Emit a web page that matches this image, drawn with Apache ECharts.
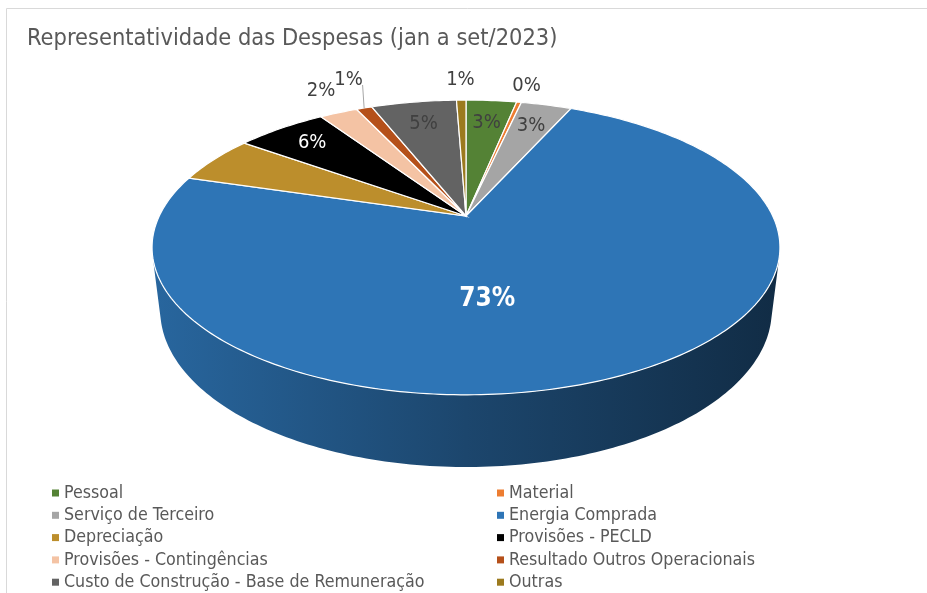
<!DOCTYPE html>
<html>
<head>
<meta charset="utf-8">
<script src="https://cdn.jsdelivr.net/npm/echarts@6/dist/echarts.min.js"></script>
<style>
html, body { margin: 0; padding: 0; background: #fff; }
#chart { width: 927px; height: 593px; }
</style>
</head>
<body>
<div id="chart"></div>
<script>
// shares in %
const categories = ["Pessoal", "Material", "Serviço de Terceiro", "Energia Comprada", "Depreciação",
	"Provisões - PECLD", "Provisões - Contingências", "Resultado Outros Operacionais",
	"Custo de Construção - Base de Remuneração", "Outras"]
const shares = [3.2, 0.3, 3.2, 72.9, 5.3, 5.7, 2.4, 1.0, 5.4, 0.6]
const colors = ["#548235", "#ED7D31", "#A5A5A5", "#2E75B6", "#BC8E2C", "#000000", "#F4C3A4", "#B5501A", "#636363", "#9C7A1E"]
const legendLeft = ["Pessoal", "Serviço de Terceiro", "Depreciação", "Provisões - Contingências", "Custo de Construção - Base de Remuneração"]
const legendRight = ["Material", "Energia Comprada", "Provisões - PECLD", "Resultado Outros Operacionais", "Outras"]

const FONT = "'Liberation Sans Narrow', 'DejaVu Sans Condensed', sans-serif"

// where each percentage label goes (radius as fraction of pie radius)
const labelSpots = [
	{r: 0.78},
	{r: 1.175},
	{r: 0.78},
	{r: 0.53, turn: 18, fill: "#fff", size: 26, weight: "bold"},
	null,
	{r: 0.81, fill: "#fff"},
	{r: 1.24, turn: 1.5},
	{r: 1.31, turn: 1.8, leader: true},
	{r: 0.78},
	{r: 1.217}
]

// perspective camera for the tilted pie
const view = {cx: 466, cy: 216, f: 1278, tilt: 27.3, R: 0.24, depth: 0.0557}
const sinA = Math.sin(view.tilt * Math.PI / 180)
const cosA = Math.cos(view.tilt * Math.PI / 180)

function project(r, deg, y) {
	let a = deg * Math.PI / 180
	let X = r * Math.sin(a), Z = r * Math.cos(a)
	let zc = Z * cosA - y * sinA
	let yc = y * cosA + Z * sinA
	let s = view.f / (1 + zc)
	return [view.cx + X * s, view.cy - yc * s]
}

function arc(r, a0, a1, y) {
	let pts = []
	let n = Math.max(2, Math.ceil(Math.abs(a1 - a0)))
	for (let j = 0; j <= n; j++)
		pts.push(project(r, a0 + (a1 - a0) * j / n, y))
	return pts
}

function shade(c, k) {
	let p = echarts.color.parse(c)
	return "rgb(" + Math.round(p[0] * k) + "," + Math.round(p[1] * k) + "," + Math.round(p[2] * k) + ")"
}

const total = shares.reduce((a, b) => a + b, 0)
const starts = []
let acc = 0
for (let i = 0; i < shares.length; i++) {
	starts.push(acc)
	acc += shares[i]
}

// the outer wall is only seen between these angles
const sideFrom = Math.acos(-view.R / cosA) * 180 / Math.PI
const sideTo = 360 - sideFrom

function sliceRenderer(i) {
	return function (params, api) {
		let value = api.value(0)
		let a0 = starts[i] / total * 360
		let a1 = a0 + value / total * 360
		let children = []
		let c = colors[i]

		let s0 = Math.max(a0, sideFrom), s1 = Math.min(a1, sideTo)
		if (s1 > s0) {
			let pts = arc(view.R, s0, s1, 0).concat(arc(view.R, s1, s0, -view.depth))
			let left = project(view.R, sideTo, 0)[0]
			let right = project(view.R, sideFrom, 0)[0]
			children.push({
				type: "polygon",
				z2: 1,
				shape: {points: pts},
				style: {
					fill: new echarts.graphic.LinearGradient(left, 0, right, 0, [
						{offset: 0, color: shade(c, 0.87)},
						{offset: 0.5, color: shade(c, 0.6)},
						{offset: 1, color: shade(c, 0.38)}
					], true)
				}
			})
		}

		let top = [project(0, 0, 0)].concat(arc(view.R, a0, a1, 0))
		children.push({
			type: "polygon",
			z2: 2,
			shape: {points: top},
			style: {fill: c, stroke: "#fff", lineWidth: 1.2}
		})

		let spot = labelSpots[i]
		if (spot) {
			let mid = (a0 + a1) / 2 + (spot.turn || 0)
			let p = project(view.R * spot.r, mid, 0)
			children.push({
				type: "text",
				z2: 4,
				x: p[0],
				y: p[1],
				style: {
					text: Math.round(value / total * 100) + "%",
					fill: spot.fill || "#404040",
					font: (spot.weight || "normal") + " " + (spot.size || 20) + "px " + FONT,
					align: "center",
					verticalAlign: "middle"
				}
			})
			if (spot.leader) {
				let e = project(view.R, (a0 + a1) / 2, 0)
				children.push({
					type: "line",
					z2: 3,
					shape: {x1: p[0] + 14, y1: p[1] + 5, x2: e[0], y2: e[1]},
					style: {stroke: "#a6a6a6", lineWidth: 1}
				})
			}
		}
		return {type: "group", children: children}
	}
}

let chart = echarts.init(document.getElementById("chart"))

let series = categories.map((name, i) => ({
	name: name,
	type: "custom",
	coordinateSystem: "none",
	itemStyle: {color: colors[i]},
	data: [[shares[i]]],
	renderItem: sliceRenderer(i)
}))

function legendBlock(names, left) {
	return {
		data: names,
		orient: "vertical",
		left: left,
		top: 478,
		height: 140,
		itemWidth: 7,
		itemHeight: 7,
		itemGap: 2.3,
		icon: "rect",
		selectedMode: false,
		textStyle: {fontSize: 17.7, lineHeight: 20, color: "#595959", fontFamily: FONT}
	}
}

let option = {
	title: {
		text: "Representatividade das Despesas (jan a set/2023)",
		left: 22,
		top: 22,
		textStyle: {fontSize: 23.4, fontWeight: "normal", color: "#595959", fontFamily: FONT}
	},
	legend: [legendBlock(legendLeft, 47), legendBlock(legendRight, 492)],
	graphic: [{
		type: "rect",
		shape: {x: 6.5, y: 8.5, width: 1000, height: 1000},
		style: {fill: null, stroke: "#d9d9d9", lineWidth: 1}
	}],
	series: series,
	animation: false
}
chart.setOption(option)
window.onresize = chart.resize
</script>
</body>
</html>
